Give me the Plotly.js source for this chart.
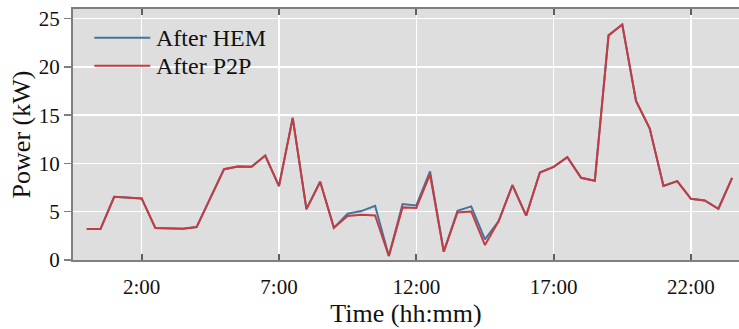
<!DOCTYPE html>
<html>
<head>
<meta charset="utf-8">
<script src="https://cdn.plot.ly/plotly-3.0.1.min.js"></script>
<style>html,body{margin:0;padding:0;background:#fff;}#chart{width:739px;height:329px;}</style>
</head>
<body>
<div id="chart"></div>
<script>
const times = ["00:00","00:30","01:00","01:30","02:00","02:30","03:00","03:30",
  "04:00","04:30","05:00","05:30","06:00","06:30","07:00","07:30",
  "08:00","08:30","09:00","09:30","10:00","10:30","11:00","11:30",
  "12:00","12:30","13:00","13:30","14:00","14:30","15:00","15:30",
  "16:00","16:30","17:00","17:30","18:00","18:30","19:00","19:30",
  "20:00","20:30","21:00","21:30","22:00","22:30","23:00","23:30"];
const afterHEM = [3.2,3.2,6.55,6.5,6.38,3.31,3.28,3.25,
  3.41,6.5,9.41,9.69,9.65,10.82,7.65,14.72,
  5.27,8.1,3.34,4.79,5.07,5.62,0.41,5.79,
  5.65,9.17,0.86,5.1,5.55,2.14,4.03,7.76,
  4.59,9.06,9.65,10.65,8.51,8.2,23.27,24.4,
  16.47,13.62,7.68,8.17,6.34,6.17,5.31,8.51];
const afterP2P = [3.2,3.2,6.55,6.5,6.38,3.31,3.28,3.25,
  3.41,6.5,9.41,9.69,9.65,10.82,7.65,14.72,
  5.27,8.1,3.34,4.55,4.69,4.62,0.41,5.45,
  5.38,8.86,0.86,4.93,5.03,1.55,4.03,7.76,
  4.59,9.06,9.65,10.65,8.51,8.2,23.27,24.4,
  16.47,13.62,7.68,8.17,6.34,6.17,5.31,8.51];
const seriesNames = ["After HEM", "After P2P"];
const seriesColors = ["#44739b", "#c63b42"];
const xTickVals = ["02:00","07:00","12:00","17:00","22:00"];
const xTickText = ["2:00","7:00","12:00","17:00","22:00"];
const yTickVals = [0,5,10,15,20,25];

const day = t => "2000-01-01 " + t;
const xs = times.map(day);
const font = "Liberation Serif";

const traces = [afterHEM, afterP2P].map((ys, k) => ({
  x: xs, y: ys, name: seriesNames[k], type: "scatter", mode: "lines",
  line: {color: seriesColors[k], width: 2}
}));

// Custom legend (paper coordinates)
const legendRows = [0.885, 0.774];
const shapes = seriesNames.map((n, k) => ({
  type: "line", xref: "paper", yref: "paper",
  x0: 0.032, x1: 0.116, y0: legendRows[k], y1: legendRows[k],
  line: {color: seriesColors[k], width: 2}
}));
const annotations = seriesNames.map((n, k) => ({
  text: n, xref: "paper", yref: "paper", x: 0.121, y: legendRows[k],
  xanchor: "left", yanchor: "middle", showarrow: false,
  font: {family: font, size: 24, color: "#111"}
}));

const layout = {
  width: 739, height: 329,
  margin: {l: 73, r: 0, t: 9, b: 69},
  paper_bgcolor: "#ffffff",
  plot_bgcolor: "#dedede",
  font: {family: font, color: "#111", size: 21},
  showlegend: false,
  shapes: shapes,
  annotations: annotations,
  xaxis: {
    type: "date",
    range: ["1999-12-31 23:30", "2000-01-01 23:45"],
    tickvals: xTickVals.map(day), ticktext: xTickText,
    showgrid: true, gridcolor: "#ffffff", gridwidth: 1.5,
    showline: true, linecolor: "#7f7f7f", linewidth: 2, mirror: "allticks",
    ticks: "inside", ticklen: 6, tickwidth: 2, tickcolor: "#606060",
    ticklabelstandoff: 7,
    zeroline: false,
    tickfont: {family: font, size: 21, color: "#111"},
    title: {text: "Time (hh:mm)", font: {family: font, size: 26, color: "#111"}, standoff: 4}
  },
  yaxis: {
    range: [0, 26],
    tickvals: yTickVals,
    showgrid: true, gridcolor: "#ffffff", gridwidth: 1.5,
    showline: true, linecolor: "#7f7f7f", linewidth: 2,
    ticks: "outside", ticklen: 7, tickwidth: 1.5, tickcolor: "#7f7f7f",
    zeroline: false,
    tickfont: {family: font, size: 21, color: "#111"},
    title: {text: "Power (kW)", font: {family: font, size: 26, color: "#111"}, standoff: 1}
  }
};

Plotly.newPlot("chart", traces, layout, {displayModeBar: false, staticPlot: true});
</script>
</body>
</html>
